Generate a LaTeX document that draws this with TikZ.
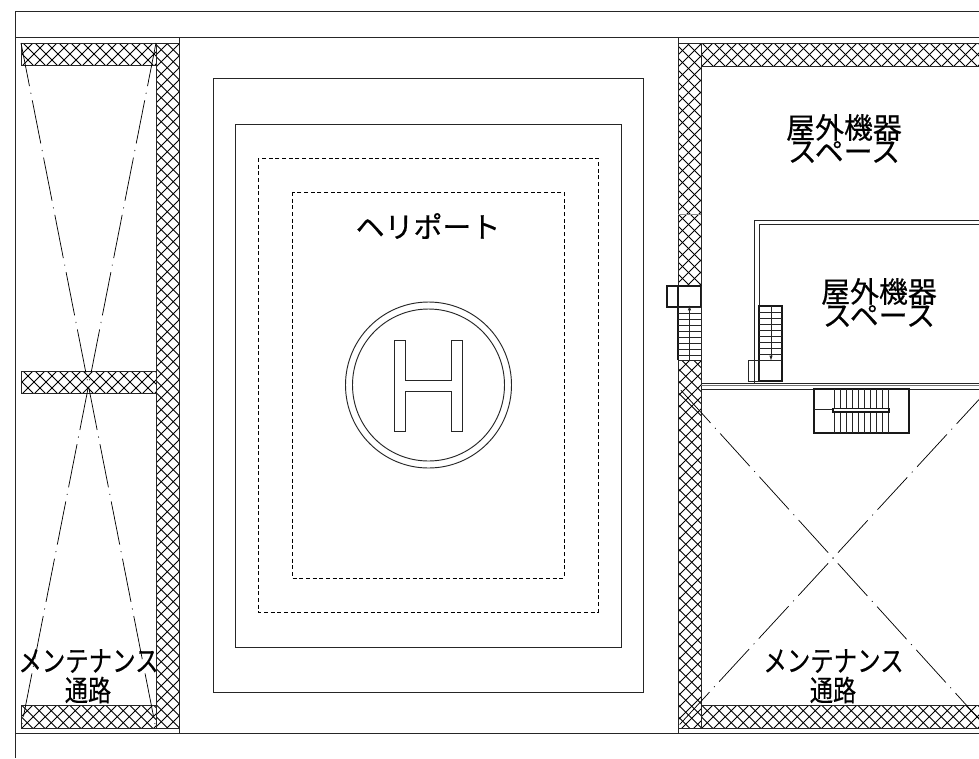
\documentclass[tikz,border=0pt]{standalone}
\usepackage{graphicx}
\usepackage{fontspec}
\usetikzlibrary{arrows.meta}
\setmainfont{Noto Sans CJK JP}[FakeBold=0.4]
\tikzset{
  plan/.style={line width=.7pt,draw=black!85},
  heavy/.style={line width=.85pt,draw=black!90},
  thinline/.style={line width=.65pt,draw=black!85},
  hatchline/.style={line width=.6pt,draw=black},
  centerline/.style={line width=.55pt,draw=black,dash pattern=on 33pt off 5pt on .8pt off 5pt},
  dashline/.style={line width=.6pt,draw=black,dash pattern=on 3pt off 2pt},
  label/.style={inner sep=0pt,text=black,font=\fontsize{21.7pt}{21.7pt}\selectfont},
}
\newcommand{\hatchbox}[4]{%
  \begin{scope}
    \clip (#1,#2) rectangle (#3,#4);
    \pgfmathsetmacro{\hW}{#3-#1}\pgfmathsetmacro{\hH}{#4-#2}
    \pgfmathsetmacro{\hS}{-\hH-12}\pgfmathsetmacro{\hN}{\hS+12}\pgfmathsetmacro{\hE}{\hW+12}
    \foreach \s in {\hS,\hN,...,\hE}{
      \draw[hatchline] (#1+\s,#2) -- (#1+\s+\hH,#4);
      \draw[hatchline] (#1+\s,#4) -- (#1+\s+\hH,#2);
    }
  \end{scope}
  \draw[plan] (#1,#2) rectangle (#3,#4);
}
\begin{document}
\begin{tikzpicture}[x=.75pt,y=-.75pt]
\useasboundingbox (0,0) rectangle (979,758);
\fill[white] (0,0) rectangle (979,758);
% frame
\draw[plan] (979,11) -- (15.5,11) -- (15.5,758);
\draw[plan] (15.5,37.5) -- (979,37.5);
\draw[plan] (15.5,733.5) -- (979,733.5);
\draw[plan] (179,37.5) -- (179,733.5);
\draw[plan] (678,37.5) -- (678,733.5);
% hatch left
\hatchbox{21}{43}{156}{65}
\hatchbox{21}{371}{156}{393}
\hatchbox{21}{705}{156}{728.5}
\hatchbox{156}{43}{179}{728.5}
% hatch right
\hatchbox{678}{43}{701}{286}
\hatchbox{678}{360}{701}{728.5}
\hatchbox{701}{43}{985}{66}
\hatchbox{701}{705}{985}{728.5}
\draw[thinline,draw=black!45] (678,214) -- (701,214);
% heliport
\draw[plan] (213,78) rectangle (643,692);
\draw[plan] (235,124) rectangle (621,647);
\draw[dashline] (258,158) rectangle (598,612);
\draw[dashline] (292,192) rectangle (564,578);
\draw[plan] (428.5,385) circle (83);
\draw[plan] (428.5,385) circle (76);
\draw[plan] (394,340) -- (405,340) -- (405,380) -- (451,380) -- (451,340) -- (462,340) -- (462,431) -- (451,431) -- (451,391) -- (405,391) -- (405,431) -- (394,431) -- cycle;
% centre lines
\draw[centerline] (21,43) -- (156,729);
\draw[centerline] (156,43) -- (21,729);
\draw[centerline,dash phase=40.5pt] (678,387) -- (985,725.7);
\draw[centerline,dash phase=1.6pt] (985,393) -- (678,726.3);
% roof structure
\draw[plan] (701,383) -- (985,383);
\draw[plan,draw=black!55] (701,385.5) -- (985,385.5);
\draw[plan] (701,389) -- (985,389);
\draw[plan] (754,383) -- (754,220) -- (985,220);
\draw[plan] (759,381) -- (759,224) -- (985,224);
% stair 1
\fill[white] (678,286) rectangle (701,360);
\draw[heavy] (667,286) rectangle (701,307);
\draw[heavy] (678,286) -- (678,360);
\draw[plan] (701,286) -- (701,360);
\foreach \ty in {307,313,319,325,331,337,343,349,355,360}{\draw[thinline] (678,\ty) -- (701,\ty);}
\draw[thinline,-{Latex[length=4pt,width=2.5pt]}] (689.5,360) -- (689.5,305);
% stair 2
\fill[white] (759,306) rectangle (782,381);
\draw[heavy] (759,306) rectangle (782,381);
\draw[plan] (748,360) rectangle (759,381);
\draw[plan] (759,360) -- (782,360);
\foreach \ty in {312,318,324,330,336,342,348,354}{\draw[thinline] (759,\ty) -- (782,\ty);}
\draw[thinline,-{Latex[length=4pt,width=2.5pt]}] (771,306) -- (771,361);
% stair 3
\draw[heavy] (814,389) rectangle (909,433);
\foreach \tx in {834,840,846,852,858,864,870,876,882,888}{\draw[thinline] (\tx,389) -- (\tx,433);}
\draw[thinline] (814,409) -- (833,409);
\fill[white] (833,408.5) rectangle (889,412);
\draw[heavy] (833,408.5) rectangle (889,412);
% labels
\node[label] (heli) at (428,226) {ヘリポート};
\node[label] (eq1a) at (844,127.5) {屋外機器};
\node[label] (eq1b) at (844,152) {スペース};
\node[label] (eq2a) at (879,291.5) {屋外機器};
\node[label] (eq2b) at (879,316) {スペース};
\node[label] (mtl1) at (88.5,661) {\scalebox{.81}[1]{メンテナンス}};
\node[label] (mtl2) at (88,690) {\scalebox{.8}[1]{通路}};
\node[label] (mtr1) at (833.5,661) {\scalebox{.81}[1]{メンテナンス}};
\node[label] (mtr2) at (833,690) {\scalebox{.8}[1]{通路}};
\end{tikzpicture}
\end{document}
